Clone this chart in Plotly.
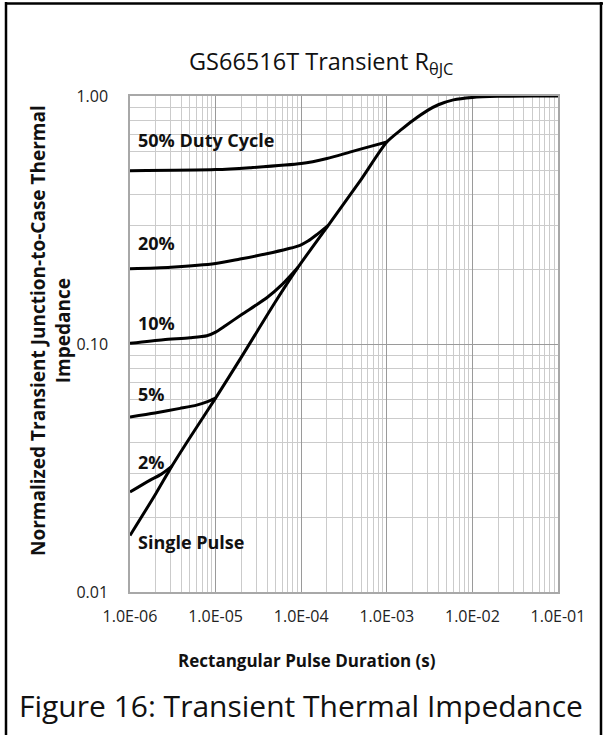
import plotly.graph_objects as go

# ---- data ----
t_single = [1e-6, 2e-6, 3.07e-6, 5e-6, 1e-5, 2e-5, 5e-5, 9.2e-5, 2.07e-4, 5e-4,
            1e-3, 1.5e-3, 2e-3, 3e-3, 4e-3, 6e-3, 1e-2, 2e-2, 5e-2, 1e-1]
z_single = [0.0169, 0.0249, 0.0321, 0.0419, 0.0605, 0.0885, 0.148, 0.204, 0.301, 0.46,
            0.652, 0.735, 0.795, 0.875, 0.922, 0.965, 0.987, 0.997, 1.0, 1.0]

t_d02 = [1e-6, 1.7e-6, 2.3e-6, 3.07e-6]
z_d02 = [0.0253, 0.0282, 0.0298, 0.0321]

t_d05 = [1e-6, 1.96e-6, 3.84e-6, 6e-6, 7.9e-6, 1e-5]
z_d05 = [0.0508, 0.0527, 0.055, 0.0567, 0.0584, 0.0605]

t_d10 = [1e-6, 2.45e-6, 5e-6, 7.9e-6, 1e-5, 1.3e-5, 2e-5, 4e-5, 6e-5, 9.2e-5]
z_d10 = [0.1006, 0.104, 0.106, 0.108, 0.1117, 0.1185, 0.1312, 0.154, 0.174, 0.204]

t_d20 = [1e-6, 3e-6, 1e-5, 1.93e-5, 3.95e-5, 7e-5, 9.7e-5, 1.2e-4, 1.5e-4, 2.07e-4]
z_d20 = [0.201, 0.204, 0.211, 0.22, 0.231, 0.242, 0.25, 0.26, 0.275, 0.301]

t_d50 = [1e-6, 1e-5, 2.5e-5, 1e-4, 2e-4, 3.7e-4, 6e-4, 1e-3]
z_d50 = [0.50, 0.505, 0.514, 0.534, 0.56, 0.594, 0.622, 0.652]

x_tickvals = [1e-6, 1e-5, 1e-4, 1e-3, 1e-2, 1e-1]
x_ticktext = ["1.0E-06", "1.0E-05", "1.0E-04", "1.0E-03", "1.0E-02", "1.0E-01"]
y_tickvals = [0.01, 0.1, 1.0]
y_ticktext = ["0.01", "0.10", "1.00"]

series_labels = ["50% Duty Cycle", "20%", "10%", "5%", "2%", "Single Pulse"]

# ---- layout geometry ----
W, H = 605, 735
L, R, T, B = 130, 558, 96, 592

def px(x):
    return (x - L) / (R - L)

def py(y):
    return (B - y) / (B - T)

FONT = "Open Sans"

fig = go.Figure()
line = dict(color="black", width=3, shape="spline", smoothing=0.7)
for tx, zy in [(t_d50, z_d50), (t_d20, z_d20), (t_d10, z_d10), (t_d05, z_d05),
               (t_d02, z_d02), (t_single, z_single)]:
    fig.add_trace(go.Scatter(x=tx, y=zy, mode="lines", line=line,
                             showlegend=False, hoverinfo="skip"))

fig.update_layout(
    width=W, height=H, autosize=False,
    margin=dict(l=L, r=W - R, t=T, b=H - B),
    paper_bgcolor="white", plot_bgcolor="white",
    font=dict(family=FONT, color="#222"),
    showlegend=False,
)

fig.update_xaxes(
    type="log", range=[-6, -1],
    tickvals=x_tickvals, ticktext=x_ticktext,
    tickfont=dict(size=16, color="#222", family=FONT),
    showgrid=True, gridcolor="#9a9a9a", gridwidth=1,
    minor=dict(showgrid=True, gridcolor="#cbcbcb", gridwidth=1.2, dtick="D1"),
    showline=True, linecolor="#a8a8a8", linewidth=1.5, mirror=True,
    ticks="", ticklabelstandoff=9, zeroline=False,
)
fig.update_yaxes(
    type="log", range=[-2, 0],
    tickvals=y_tickvals, ticktext=y_ticktext,
    tickfont=dict(size=16, color="#222", family=FONT),
    showgrid=True, gridcolor="#9a9a9a", gridwidth=1,
    minor=dict(showgrid=True, gridcolor="#cbcbcb", gridwidth=1.2, dtick="D1"),
    showline=True, linecolor="#a8a8a8", linewidth=1.5, mirror=True,
    ticks="", ticklabelstandoff=17, zeroline=False,
)

ann = []
# series labels
label_pos = [(136, 140), (136, 243), (136, 323), (136, 394), (136, 462), (136, 542)]
for txt, (lx, ly) in zip(series_labels, label_pos):
    ann.append(dict(text="<b>%s</b>" % txt, x=px(lx), y=py(ly), xref="paper", yref="paper",
                    xanchor="left", yanchor="middle", showarrow=False,
                    font=dict(size=18, color="#111", family=FONT)))
# title
ann.append(dict(text="GS66516T Transient R<sub>θJC</sub>", x=px(321), y=py(63),
                xref="paper", yref="paper", xanchor="center", yanchor="middle",
                showarrow=False, font=dict(size=23.5, color="#111", family=FONT)))
# x-axis title
ann.append(dict(text="<b>Rectangular Pulse Duration (s)</b>", x=px(307), y=py(660),
                xref="paper", yref="paper", xanchor="center", yanchor="middle",
                showarrow=False, font=dict(size=17, color="#111", family=FONT)))
# y-axis title
ann.append(dict(text="<b>Normalized Transient Junction-to-Case Thermal<br>Impedance</b>",
                x=px(50), y=py(331), xref="paper", yref="paper",
                xanchor="center", yanchor="middle", textangle=-90, showarrow=False,
                font=dict(size=19, color="#111", family=FONT)))
# caption
ann.append(dict(text="Figure 16: Transient Thermal Impedance", x=px(301), y=py(705),
                xref="paper", yref="paper", xanchor="center", yanchor="middle",
                showarrow=False, font=dict(size=30, color="#111", family=FONT)))
fig.update_layout(annotations=ann)

# outer frame
frame = dict(color="black", width=2.5)
fig.add_shape(type="line", xref="paper", yref="paper",
              x0=px(6), x1=px(6), y0=py(2), y1=py(735), line=frame)
fig.add_shape(type="line", xref="paper", yref="paper",
              x0=px(6), x1=px(603), y0=py(3.5), y1=py(3.5), line=frame)
fig.add_shape(type="line", xref="paper", yref="paper",
              x0=px(601), x1=px(601), y0=py(2), y1=py(735), line=frame)

fig.write_html("out.html", config={"displayModeBar": False},
               post_script="document.body.style.margin='0';document.body.style.overflow='hidden';")
